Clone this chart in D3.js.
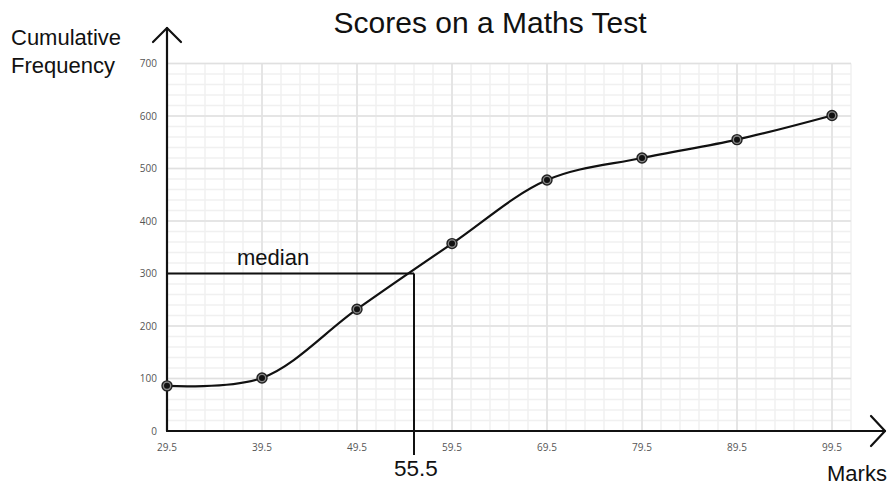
<!DOCTYPE html>
<html>
<head>
<meta charset="utf-8">
<script src="https://cdn.jsdelivr.net/npm/d3@7"></script>
<style>
  html, body { margin: 0; padding: 0; background: #fff; }
  svg { display: block; }
  .tick-label { font-family: "Open Sans", "Liberation Sans", sans-serif; font-size: 10px; fill: #555; }
  .big { font-family: "Liberation Sans", Arial, sans-serif; fill: #111; }
</style>
</head>
<body>
<svg id="chart" width="889" height="486"></svg>
<script>
// Upper class boundaries (marks) and cumulative frequencies
const marks = [29.5, 39.5, 49.5, 59.5, 69.5, 79.5, 89.5, 99.5];
const cumFreq = [86, 101, 232, 357, 478, 520, 555, 601];
const xTicks = [29.5, 39.5, 49.5, 59.5, 69.5, 79.5, 89.5, 99.5];
const yTicks = [0, 100, 200, 300, 400, 500, 600, 700];
const medianMark = 55.5;
const medianFreq = 300;

const svg = d3.select("#chart");
const x = d3.scaleLinear().domain([29.5, 101.5]).range([167, 851]);
const y = d3.scaleLinear().domain([0, 700]).range([431, 63.5]);

// Grid: minor lines every 2 marks / 20 frequency, major lines at the ticks
const grid = svg.append("g");
const xMinor = d3.range(29.5, 101.51, 2);
const yMinor = d3.range(0, 700.1, 20);
grid.selectAll(".vmin").data(xMinor).join("line")
  .attr("x1", d => x(d)).attr("x2", d => x(d))
  .attr("y1", y(0)).attr("y2", y(700))
  .attr("stroke", "#f0f0f0").attr("stroke-width", 1.5);
grid.selectAll(".hmin").data(yMinor).join("line")
  .attr("x1", x(29.5)).attr("x2", x(101.5))
  .attr("y1", d => y(d)).attr("y2", d => y(d))
  .attr("stroke", "#f0f0f0").attr("stroke-width", 1.5);
grid.selectAll(".vmaj").data(xTicks).join("line")
  .attr("x1", d => x(d)).attr("x2", d => x(d))
  .attr("y1", y(0)).attr("y2", y(700))
  .attr("stroke", "#e0e0e0").attr("stroke-width", 1.5);
grid.selectAll(".hmaj").data(yTicks).join("line")
  .attr("x1", x(29.5)).attr("x2", x(101.5))
  .attr("y1", d => y(d)).attr("y2", d => y(d))
  .attr("stroke", "#e0e0e0").attr("stroke-width", 1.5);

// Tick labels
svg.append("g").selectAll("text").data(xTicks).join("text")
  .attr("class", "tick-label")
  .attr("x", d => x(d)).attr("y", 451)
  .attr("text-anchor", "middle")
  .text(d => d.toFixed(1));
svg.append("g").selectAll("text").data(yTicks).join("text")
  .attr("class", "tick-label")
  .attr("x", 157).attr("y", d => y(d) + 3.5)
  .attr("text-anchor", "end")
  .text(d => d);

// Median guide lines
const guide = svg.append("g").attr("stroke", "#111").attr("stroke-width", 2).attr("fill", "none");
guide.append("line")
  .attr("x1", x(29.5)).attr("x2", x(medianMark))
  .attr("y1", y(medianFreq)).attr("y2", y(medianFreq));
guide.append("line")
  .attr("x1", x(medianMark)).attr("x2", x(medianMark))
  .attr("y1", y(medianFreq)).attr("y2", 455);

// Axes with open arrowheads
const axes = svg.append("g").attr("stroke", "#111").attr("stroke-width", 2.2).attr("fill", "none")
  .attr("stroke-linecap", "round").attr("stroke-linejoin", "round");
axes.append("line").attr("x1", x(29.5)).attr("x2", x(29.5)).attr("y1", y(0)).attr("y2", 28);
axes.append("polyline").attr("points", `${x(29.5) - 14},42 ${x(29.5)},28 ${x(29.5) + 14},42`);
axes.append("line").attr("x1", x(29.5)).attr("x2", 885).attr("y1", y(0)).attr("y2", y(0));
axes.append("polyline").attr("points", `871,${y(0) - 15} 885,${y(0)} 871,${y(0) + 15}`);

// Cumulative frequency curve
const line = d3.line().x((d, i) => x(marks[i])).y(d => y(d)).curve(d3.curveCatmullRom.alpha(0.5));
svg.append("path").datum(cumFreq)
  .attr("d", line)
  .attr("fill", "none").attr("stroke", "#111").attr("stroke-width", 2.2);

// Point markers
const pts = svg.append("g").selectAll("g").data(cumFreq).join("g")
  .attr("transform", (d, i) => `translate(${x(marks[i])},${y(d)})`);
pts.append("circle").attr("r", 5).attr("fill", "#888").attr("stroke", "#222").attr("stroke-width", 1.4);
pts.append("circle").attr("r", 3).attr("fill", "#111");

// Text labels
svg.append("text").attr("class", "big").attr("x", 490).attr("y", 33)
  .attr("text-anchor", "middle").attr("font-size", 30).text("Scores on a Maths Test");
svg.append("text").attr("class", "big").attr("x", 11).attr("y", 45)
  .attr("font-size", 22).text("Cumulative");
svg.append("text").attr("class", "big").attr("x", 11).attr("y", 73)
  .attr("font-size", 22).text("Frequency");
svg.append("text").attr("class", "big").attr("x", 237).attr("y", 265)
  .attr("font-size", 22).text("median");
svg.append("text").attr("class", "big").attr("x", x(medianMark) + 2).attr("y", 476)
  .attr("text-anchor", "middle").attr("font-size", 22.5).text("55.5");
svg.append("text").attr("class", "big").attr("x", 827).attr("y", 481)
  .attr("font-size", 22).text("Marks");
</script>
</body>
</html>
